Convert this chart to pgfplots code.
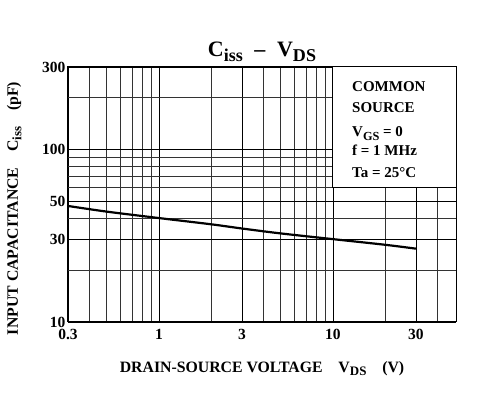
\documentclass[border=0pt]{standalone}
\usepackage{fontspec}
\setmainfont{Liberation Serif}
\usepackage{graphicx}
\usepackage{pgfplots}
\pgfplotsset{compat=1.18}
\newcommand\sub[1]{\raisebox{-0.45ex}{\scalebox{0.82}{#1}}}
\begin{document}
\begin{tikzpicture}
\begin{axis}[
  name=ax,
  scale only axis,
  width=388pt, height=255pt,
  xmode=log, ymode=log,
  xmin=0.3, xmax=51, ymin=10, ymax=300,
  xtick={0.3,1,3,10,30},
  xticklabels={0.3,1,3,10,30},
  minor xtick={0.4,0.5,0.6,0.7,0.8,0.9,2,4,5,6,7,8,9,20,40},
  ytick={10,30,50,100,300},
  yticklabels={10,30,50,100,300},
  minor ytick={20,40,60,70,80,90,200},
  major tick length=0pt, minor tick length=0pt,
  grid=both,
  major grid style={black, line width=0.8pt},
  minor grid style={black!80, line width=0.7pt},
  axis line style={black, line width=1pt},
  ticklabel style={font=\bfseries\fontsize{15.5}{15.5}\selectfont},
  xticklabel style={yshift=-4pt},
  yticklabel style={xshift=1pt},
]
\draw[black, line width=1pt, fill=white] (axis cs:10,60) rectangle (rel axis cs:1,1);
\addplot[black, line width=2.2pt, smooth] coordinates {
(0.3,47) (0.5,43.6) (1,40) (2,36.8) (3,34.8) (5,32.6) (10,30.2) (20,28) (30,26.6)
};
\end{axis}
\path[use as bounding box] ([xshift=-68pt,yshift=-73pt]ax.south west) rectangle ([xshift=27pt,yshift=67pt]ax.north east);
\node[anchor=base, font=\bfseries\fontsize{22}{22}\selectfont] at ([yshift=10pt]ax.north) {C\sub{iss} \;–\; V\sub{DS}};
\node[anchor=base, font=\bfseries\fontsize{15.8}{15.8}\selectfont] at ([yshift=-50pt]ax.south) {DRAIN-SOURCE VOLTAGE\quad V\sub{DS}\quad (V)};
\node[anchor=base, rotate=90, font=\bfseries\fontsize{15.8}{15.8}\selectfont] at ([xshift=-50pt,yshift=-14pt]ax.west) {INPUT CAPACITANCE\quad C\sub{iss}\quad (pF)};
\begin{scope}[every node/.style={anchor=base west, inner sep=0pt, font=\bfseries\fontsize{15}{15}\selectfont}]
\node at ([xshift=-104pt,yshift=-25pt]ax.north east) {COMMON};
\node at ([xshift=-104pt,yshift=-46pt]ax.north east) {SOURCE};
\node at ([xshift=-104pt,yshift=-70pt]ax.north east) {V\sub{GS} = 0};
\node at ([xshift=-104pt,yshift=-89pt]ax.north east) {f = 1 MHz};
\node at ([xshift=-104pt,yshift=-111pt]ax.north east) {Ta = 25°C};
\end{scope}
\end{tikzpicture}
\end{document}
